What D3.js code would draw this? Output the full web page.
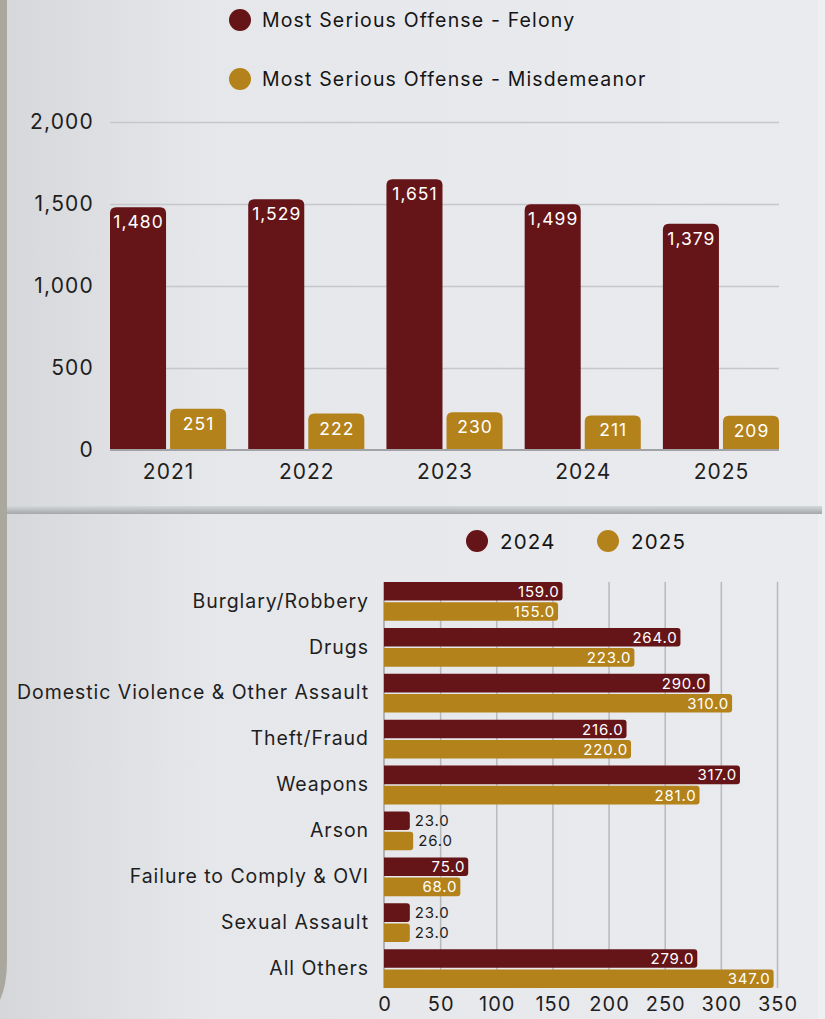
<!DOCTYPE html>
<html>
<head>
<meta charset="utf-8">
<script src="https://cdn.jsdelivr.net/npm/d3@7"></script>
<style>
html,body{margin:0;padding:0;background:#e9eaed;}
svg{display:block;font-family:Inter,"Noto Sans",sans-serif;}
</style>
</head>
<body>
<svg id="chart" width="825" height="1019"></svg>
<script>
// ---- data ----
const years = ["2021","2022","2023","2024","2025"];
const felony = [1480,1529,1651,1499,1379];
const misdemeanor = [251,222,230,211,209];
const topSeries = ["Most Serious Offense - Felony","Most Serious Offense - Misdemeanor"];
const topTicks = [0,500,1000,1500,2000];

const categories = ["Burglary/Robbery","Drugs","Domestic Violence & Other Assault","Theft/Fraud","Weapons","Arson","Failure to Comply & OVI","Sexual Assault","All Others"];
const v2024 = [159,264,290,216,317,23,75,23,279];
const v2025 = [155,223,310,220,281,26,68,23,347];
const bottomSeries = ["2024","2025"];
const bottomTicks = [0,50,100,150,200,250,300,350];

const colors = ["#651418","#b4821a"];
const FONT = "Inter";

const svg = d3.select("#chart");
const W = 825, H = 1019;

// ---- background ----
const defs = svg.append("defs");
const bg = defs.append("linearGradient").attr("id","bgGrad").attr("x1","0").attr("x2","1").attr("y1","0").attr("y2","0");
bg.append("stop").attr("offset","0").attr("stop-color","#d6d7da");
bg.append("stop").attr("offset","0.25").attr("stop-color","#e6e7ea");
bg.append("stop").attr("offset","1").attr("stop-color","#eaebee");
svg.append("rect").attr("width",W).attr("height",H).attr("fill","url(#bgGrad)");
svg.append("path").attr("d","M0,0 H7 V960 Q7,985 0,1000 Z").attr("fill","#aaa79f");
svg.append("rect").attr("x",818).attr("y",0).attr("width",7).attr("height",H).attr("fill","#eeeff1");
const dv = defs.append("linearGradient").attr("id","divGrad").attr("x1","0").attr("x2","0").attr("y1","0").attr("y2","1");
dv.append("stop").attr("offset","0").attr("stop-color","#d4d8db");
dv.append("stop").attr("offset","1").attr("stop-color","#a3a7aa");
svg.append("rect").attr("x",7).attr("y",506).attr("width",815).attr("height",8).attr("fill","url(#divGrad)");

// ---- top chart ----
const y1 = d3.scaleLinear().domain([0,2000]).range([450,122]);
const x1 = d3.scaleBand().domain(years).range([110,779]).paddingInner(0.16).paddingOuter(0);
const x1s = d3.scaleBand().domain([0,1]).range([0,x1.bandwidth()]).paddingInner(0.067);

const gTop = svg.append("g");
const grid1 = d3.axisLeft(y1).tickValues(topTicks.slice(1)).tickSize(-(779-110)).tickFormat("");
gTop.append("g").attr("transform","translate(110,0)").call(grid1)
  .call(g=>g.select(".domain").remove())
  .call(g=>g.selectAll("line").attr("stroke","#c6c7cb").attr("stroke-width",1.5));
const yAx1 = d3.axisLeft(y1).tickValues(topTicks).tickSize(0).tickPadding(0).tickFormat(d3.format(","));
gTop.append("g").attr("transform","translate(94,0)").call(yAx1)
  .call(g=>g.select(".domain").remove())
  .call(g=>g.selectAll("text").attr("font-size",21).attr("letter-spacing",1.2).attr("fill","#1e1e1e").attr("font-family",FONT));

function topRoundRect(x,y,w,h,r){
  return `M${x},${y+h} V${y+r} Q${x},${y} ${x+r},${y} H${x+w-r} Q${x+w},${y} ${x+w},${y+r} V${y+h} Z`;
}
const topData = years.map((yr,i)=>({yr, vals:[felony[i],misdemeanor[i]]}));
const groups = gTop.selectAll("g.grp").data(topData).join("g").attr("class","grp")
  .attr("transform",d=>`translate(${x1(d.yr)},0)`);
groups.selectAll("path").data(d=>d.vals.map((v,k)=>({v,k}))).join("path")
  .attr("d",d=>topRoundRect(x1s(d.k), y1(d.v), x1s.bandwidth(), y1(0)-y1(d.v), 6))
  .attr("fill",d=>colors[d.k]);
groups.selectAll("text").data(d=>d.vals.map((v,k)=>({v,k}))).join("text")
  .attr("x",d=>x1s(d.k)+x1s.bandwidth()/2+0.5)
  .attr("y",d=>y1(d.v)+21)
  .attr("text-anchor","middle").attr("font-size",17.5).attr("letter-spacing",1).attr("fill","#fff").attr("font-family",FONT)
  .text(d=>d3.format(",")(d.v));
gTop.append("line").attr("x1",110).attr("x2",779).attr("y1",y1(0)).attr("y2",y1(0)).attr("stroke","#a2a3a7").attr("stroke-width",2);
const xAx1 = d3.axisBottom(x1).tickSize(0).tickPadding(0);
gTop.append("g").attr("transform",`translate(0.5,${y1(0)+29})`).call(xAx1)
  .call(g=>g.select(".domain").remove())
  .call(g=>g.selectAll("text").attr("font-size",21).attr("letter-spacing",1).attr("fill","#1e1e1e").attr("font-family",FONT).attr("dy","0"));

const leg1 = svg.append("g");
topSeries.forEach((s,i)=>{
  const gy = 20 + i*59;
  leg1.append("circle").attr("cx",240).attr("cy",gy).attr("r",11).attr("fill",colors[i]);
  leg1.append("text").attr("x",262).attr("y",gy+7).attr("font-size",19.5).attr("letter-spacing",1.15).attr("fill","#151515").attr("font-family",FONT).text(s);
});

// ---- bottom chart ----
const x2 = d3.scaleLinear().domain([0,350]).range([384,777]);
const y2 = d3.scaleBand().domain(categories).range([582,988]).paddingInner(0.155).paddingOuter(0);
const y2s = d3.scaleBand().domain([0,1]).range([0,y2.bandwidth()]).paddingInner(0.08);

const gBot = svg.append("g");
const grid2 = d3.axisBottom(x2).tickValues(bottomTicks.slice(1)).tickSize(988-582).tickFormat("");
gBot.append("g").attr("transform","translate(0,582)").call(grid2)
  .call(g=>g.select(".domain").remove())
  .call(g=>g.selectAll("line").attr("stroke","#b8b9bd").attr("stroke-width",1.5));
gBot.append("line").attr("x1",x2(0)).attr("x2",x2(0)).attr("y1",582).attr("y2",988).attr("stroke","#9fa0a4").attr("stroke-width",1.5);

function rightRoundRect(x,y,w,h,r){
  r = Math.min(r,w);
  return `M${x},${y} H${x+w-r} Q${x+w},${y} ${x+w},${y+r} V${y+h-r} Q${x+w},${y+h} ${x+w-r},${y+h} H${x} Z`;
}
const botData = categories.map((c,i)=>({c, vals:[v2024[i],v2025[i]]}));
const rows = gBot.selectAll("g.row").data(botData).join("g").attr("class","row")
  .attr("transform",d=>`translate(0,${y2(d.c)})`);
rows.selectAll("path").data(d=>d.vals.map((v,k)=>({v,k}))).join("path")
  .attr("d",d=>rightRoundRect(x2(0), y2s(d.k), x2(d.v)-x2(0), y2s.bandwidth(), 3))
  .attr("fill",d=>colors[d.k]);
rows.selectAll("text").data(d=>d.vals.map((v,k)=>({v,k}))).join("text")
  .attr("x",d=> (x2(d.v)-x2(0) > 45) ? x2(d.v)-3 : x2(d.v)+5)
  .attr("y",d=>y2s(d.k)+y2s.bandwidth()/2+5.5)
  .attr("text-anchor",d=> (x2(d.v)-x2(0) > 45) ? "end" : "start")
  .attr("font-size",15).attr("letter-spacing",0.8).attr("font-family",FONT)
  .attr("fill",d=> (x2(d.v)-x2(0) > 45) ? "#fff" : "#1e1e1e")
  .text(d=>d3.format(".1f")(d.v));

const yAx2 = d3.axisLeft(y2).tickSize(0).tickPadding(0);
gBot.append("g").attr("transform","translate(369,0)").call(yAx2)
  .call(g=>g.select(".domain").remove())
  .call(g=>g.selectAll("text").attr("font-size",19.5).attr("letter-spacing",0.95).attr("fill","#1e1e1e").attr("font-family",FONT));
const xAx2 = d3.axisBottom(x2).tickValues(bottomTicks).tickSize(0).tickPadding(0);
gBot.append("g").attr("transform","translate(0.5,997)").call(xAx2)
  .call(g=>g.select(".domain").remove())
  .call(g=>g.selectAll("text").attr("font-size",20).attr("letter-spacing",1).attr("fill","#1e1e1e").attr("font-family",FONT));

const leg2 = svg.append("g");
const legX = [477,608];
bottomSeries.forEach((s,i)=>{
  leg2.append("circle").attr("cx",legX[i]).attr("cy",541).attr("r",11).attr("fill",colors[i]);
  leg2.append("text").attr("x",legX[i]+23).attr("y",549).attr("font-size",20.5).attr("letter-spacing",1.2).attr("fill","#151515").attr("font-family",FONT).text(s);
});
</script>
</body>
</html>
